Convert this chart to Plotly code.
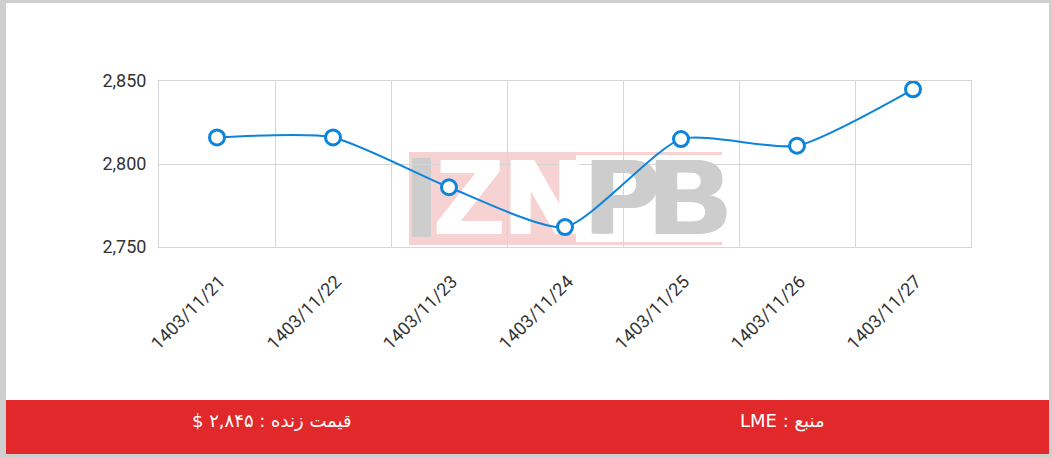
import plotly.graph_objects as go

dates = ["1403/11/21", "1403/11/22", "1403/11/23", "1403/11/24",
         "1403/11/25", "1403/11/26", "1403/11/27"]
prices = [2816, 2816, 2786, 2762, 2815, 2811, 2845]
y_ticks = [2750, 2800, 2850]
live_label = "قیمت زنده : ۲,۸۴۵ $"
source_label = "منبع : LME"
watermark_letters = ["Z", "N", "P", "B"]

W, H = 1052, 458
L, R, T, B = 159, 971, 81, 247  # plot area in pixels


def px(x):
    return (x - L) / (R - L)


def py(y):
    return (B - y) / (B - T)


BLUE = "#0b84dc"
RED = "#e1282b"
GRID = "#d6d6d6"
PINK = "#f7d2d2"
WGRAY = "#cdcdcd"
RLE, PDF = "\u202B", "\u202C"


def thick(c, d=3):
    return ", ".join([f"{d}px 0 0 {c}", f"-{d}px 0 0 {c}",
                      f"0 1px 0 {c}", f"{d}px 1px 0 {c}", f"-{d}px 1px 0 {c}"])


fig = go.Figure()
# watermark letters (base pixel-space axes, drawn beneath the data line)
fig.add_trace(go.Scatter(
    x=[469, 545], y=[206, 206],
    mode="text", text=["<b>" + c + "</b>" for c in watermark_letters[:2]],
    textposition="middle center",
    textfont=dict(family="Liberation Sans", size=106, color="white",
                  shadow=thick("white")),
    hoverinfo="skip", showlegend=False, xaxis="x", yaxis="y",
))
fig.add_trace(go.Scatter(
    x=[623, 690], y=[206, 206],
    mode="text", text=["<b>" + c + "</b>" for c in watermark_letters[2:]],
    textposition="middle center",
    textfont=dict(family="Liberation Sans", size=106, color=WGRAY,
                  shadow=thick(WGRAY)),
    hoverinfo="skip", showlegend=False, xaxis="x", yaxis="y",
))
# data line
fig.add_trace(go.Scatter(
    x=dates, y=prices, mode="lines+markers",
    line=dict(color=BLUE, width=2, shape="spline", smoothing=0.6),
    marker=dict(size=15, color="white", line=dict(color=BLUE, width=3)),
    hoverinfo="x+y", showlegend=False, xaxis="x2", yaxis="y2",
))

shapes = []
shapes.append(dict(type="rect", xref="paper", yref="paper", layer="below",
                   x0=px(6), x1=px(1049), y0=py(3), y1=py(454),
                   fillcolor="white", line=dict(width=0)))
shapes.append(dict(type="rect", xref="paper", yref="paper", layer="below",
                   x0=px(6), x1=px(1049), y0=py(400), y1=py(454),
                   fillcolor=RED, line=dict(width=0)))
shapes.append(dict(type="rect", xref="paper", yref="paper", layer="below",
                   x0=px(409), x1=px(576), y0=py(245), y1=py(152),
                   fillcolor=PINK, line=dict(width=0)))
shapes.append(dict(type="rect", xref="paper", yref="paper", layer="below",
                   x0=px(576), x1=px(722), y0=py(155), y1=py(152),
                   fillcolor=PINK, line=dict(width=0)))
shapes.append(dict(type="rect", xref="paper", yref="paper", layer="below",
                   x0=px(576), x1=px(722), y0=py(245), y1=py(242),
                   fillcolor=PINK, line=dict(width=0)))
shapes.append(dict(type="rect", xref="paper", yref="paper", layer="below",
                   x0=px(412), x1=px(431), y0=py(237), y1=py(158),
                   fillcolor=WGRAY, line=dict(width=0)))

annotations = [
    dict(text=RLE + live_label + PDF, xref="paper", yref="paper",
         x=px(272), y=py(421), showarrow=False, xanchor="center",
         yanchor="middle",
         font=dict(family="DejaVu Sans", size=18, color="white")),
    dict(text=RLE + source_label + PDF, xref="paper", yref="paper",
         x=px(782), y=py(421), showarrow=False, xanchor="center",
         yanchor="middle",
         font=dict(family="DejaVu Sans", size=18, color="white")),
]

fig.update_layout(
    width=W, height=H,
    margin=dict(l=L, r=W - R, t=T, b=H - B, pad=0),
    paper_bgcolor="#cfcfcf",
    plot_bgcolor="rgba(0,0,0,0)",
    font=dict(family="Roboto", size=18, color="#333333"),
    shapes=shapes,
    annotations=annotations,
    showlegend=False,
    xaxis=dict(range=[L, R], visible=False, showgrid=False, zeroline=False,
               fixedrange=True),
    yaxis=dict(range=[B, T], visible=False, showgrid=False, zeroline=False,
               fixedrange=True),
    xaxis2=dict(type="category", overlaying="x", side="bottom",
                tickson="boundaries", showgrid=True,
                gridcolor=GRID, gridwidth=1, tickangle=-45,
                ticks="outside", ticklen=13, tickcolor="rgba(0,0,0,0)",
                ticklabelstandoff=16, ticklabelshift=3,
                showline=True, linecolor=GRID, mirror=True,
                automargin=False, range=[-0.5, len(dates) - 0.5],
                fixedrange=True),
    yaxis2=dict(overlaying="y", side="left",
                range=[y_ticks[0], y_ticks[-1]], tickvals=y_ticks,
                tickformat=",d", showgrid=True, gridcolor=GRID, gridwidth=1,
                zeroline=False, ticks="outside", ticklen=8,
                tickcolor="rgba(0,0,0,0)", showline=True, linecolor=GRID,
                mirror=True, automargin=False, fixedrange=True),
)

fig.write_html(
    "out.html",
    config={"displayModeBar": False},
    post_script="document.body.style.margin='0';"
                "document.body.style.overflow='hidden';",
)
